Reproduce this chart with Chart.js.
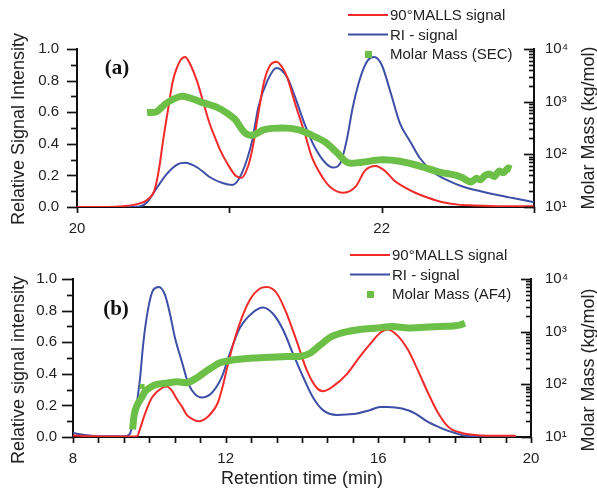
<!DOCTYPE html>
<html>
<head>
<meta charset="utf-8">
<script src="https://cdn.jsdelivr.net/npm/chart.js@4.4.1/dist/chart.umd.min.js"></script>
<style>
  html, body { margin: 0; padding: 0; background: #fff; }
  #wrap { position: relative; width: 597px; height: 493px; }
  .panel { position: absolute; left: 0; width: 597px; }
  #panelA { top: 0; height: 240px; }
  #panelB { top: 240px; height: 253px; }
</style>
</head>
<body>
<div id="wrap">
  <div class="panel" id="panelA"><canvas id="chartA"></canvas></div>
  <div class="panel" id="panelB"><canvas id="chartB"></canvas></div>
</div>
<script>
// ---- panel (a): SEC ----
const aRedT = [20.0, 20.2, 20.3, 20.4, 20.46, 20.51, 20.54, 20.565, 20.6, 20.63, 20.68, 20.71, 20.74, 20.79, 20.83, 20.87, 20.91, 20.94, 20.99, 21.04, 21.08, 21.12, 21.15, 21.19, 21.23, 21.27, 21.31, 21.35, 21.38, 21.43, 21.5, 21.54, 21.61, 21.67, 21.75, 21.83, 21.89, 21.96, 22.02, 22.08, 22.14, 22.22, 22.3, 22.4, 22.5, 22.6, 22.8, 23.0];
const aRedV = [0, 0, 0.005, 0.02, 0.045, 0.11, 0.25, 0.42, 0.63, 0.8, 0.93, 0.95, 0.91, 0.79, 0.66, 0.53, 0.43, 0.36, 0.27, 0.2, 0.185, 0.25, 0.36, 0.59, 0.8, 0.9, 0.92, 0.88, 0.82, 0.66, 0.45, 0.32, 0.19, 0.12, 0.09, 0.13, 0.23, 0.26, 0.23, 0.17, 0.13, 0.09, 0.06, 0.03, 0.015, 0.01, 0.005, 0.005];

const aBlueT = [20.0, 20.3, 20.41, 20.46, 20.53, 20.59, 20.66, 20.71, 20.79, 20.87, 20.96, 21.02, 21.08, 21.15, 21.19, 21.25, 21.31, 21.38, 21.43, 21.5, 21.56, 21.63, 21.68, 21.73, 21.77, 21.81, 21.86, 21.91, 21.95, 22.0, 22.06, 22.12, 22.19, 22.25, 22.34, 22.43, 22.53, 22.65, 22.76, 22.86, 23.0];
const aBlueV = [0, 0, 0.003, 0.03, 0.13, 0.21, 0.27, 0.28, 0.25, 0.19, 0.15, 0.14, 0.21, 0.42, 0.63, 0.8, 0.88, 0.82, 0.7, 0.51, 0.38, 0.28, 0.25, 0.28, 0.42, 0.63, 0.82, 0.93, 0.95, 0.9, 0.72, 0.53, 0.41, 0.31, 0.22, 0.17, 0.13, 0.1, 0.076, 0.057, 0.03];

const aMassT = [20.46, 20.52, 20.59, 20.68, 20.74, 20.83, 20.92, 20.99, 21.04, 21.1, 21.15, 21.23, 21.35, 21.45, 21.54, 21.63, 21.71, 21.78, 21.87, 22.0, 22.12, 22.25, 22.38, 22.49, 22.53, 22.56, 22.59, 22.62, 22.65, 22.68, 22.71, 22.74, 22.77, 22.8, 22.83, 22.85];
const aMassM = [620, 640, 950, 1260, 1180, 950, 780, 590, 450, 260, 230, 295, 316, 295, 232, 170, 105, 69, 71, 79, 74, 60, 46, 40, 36, 32, 30, 35, 33, 40, 42, 38, 48, 45, 55, 52];

// ---- panel (b): AF4 ----
const bRedT = [8.0, 8.5, 9.0, 9.5, 9.68, 9.76, 9.89, 10.07, 10.33, 10.46, 10.6, 10.72, 10.86, 10.98, 11.12, 11.28, 11.54, 11.8, 11.9, 12.11, 12.37, 12.64, 12.9, 13.08, 13.34, 13.6, 13.87, 14.13, 14.39, 14.55, 14.81, 15.18, 15.52, 15.86, 16.05, 16.25, 16.51, 16.78, 17.04, 17.3, 17.57, 17.83, 18.19, 18.71, 19.0, 19.6];
const bRedV = [0.01, 0.005, 0.003, 0.003, 0.005, 0.055, 0.15, 0.25, 0.31, 0.32, 0.29, 0.24, 0.19, 0.14, 0.115, 0.1, 0.13, 0.22, 0.3, 0.51, 0.72, 0.87, 0.94, 0.95, 0.91, 0.78, 0.6, 0.42, 0.31, 0.29, 0.32, 0.4, 0.51, 0.61, 0.66, 0.68, 0.64, 0.55, 0.42, 0.28, 0.15, 0.065, 0.025, 0.01, 0.008, 0.008];

const bBlueT = [8.0, 8.31, 8.7, 9.36, 9.49, 9.57, 9.67, 9.76, 9.84, 9.96, 10.1, 10.25, 10.41, 10.54, 10.67, 10.86, 11.02, 11.2, 11.38, 11.64, 11.9, 12.11, 12.37, 12.72, 12.98, 13.24, 13.5, 13.76, 14.03, 14.29, 14.55, 14.92, 15.34, 15.78, 16.04, 16.25, 16.62, 16.96, 17.3, 17.66, 18.01, 18.35, 19.0, 19.6];
const bBlueV = [0.025, 0.013, 0.004, 0.004, 0.02, 0.09, 0.21, 0.38, 0.59, 0.8, 0.93, 0.95, 0.9, 0.78, 0.63, 0.47, 0.34, 0.27, 0.25, 0.28, 0.38, 0.53, 0.69, 0.79, 0.82, 0.78, 0.68, 0.53, 0.38, 0.25, 0.17, 0.14, 0.145, 0.17, 0.19, 0.19, 0.18, 0.15, 0.095, 0.055, 0.025, 0.006, 0.003, 0.003];

const bMassT = [9.56, 9.58, 9.6, 9.63, 9.7, 9.8, 9.89, 10.0, 10.15, 10.41, 10.75, 11.0, 11.28, 11.51, 11.64, 11.85, 12.03, 12.28, 12.72, 13.16, 13.6, 13.95, 14.21, 14.47, 14.73, 15.07, 15.52, 15.96, 16.36, 16.78, 17.22, 17.66, 18.01, 18.15, 18.27];
const bMassM = [14, 19, 25, 32, 43, 56, 74, 85, 98, 105, 112, 108, 138, 182, 209, 257, 275, 295, 316, 327, 339, 339, 389, 550, 776, 955, 1096, 1175, 1259, 1175, 1216, 1259, 1300, 1350, 1445];
// stray point sitting above the rise
const bMassOutT = [9.81];
const bMassOutM = [91];

// ---- ticks ----
const yLabels = ['0.0', '0.2', '0.4', '0.6', '0.8', '1.0'];
const massDecades = [10, 100, 1000, 10000];
const massLabels = ['10\u00b9', '10\u00b2', '10\u00b3', '10\u2074'];
const aXLabels = [20, 22];
const bXLabels = [8, 12, 16, 20];

const RED = '#f22a2a';
const BLUE = '#3d4fa6';
const GREEN = '#6cbf47';
const FONT = "'Liberation Sans', Arial, sans-serif";

function pts(xs, ys) {
  return xs.map((x, i) => ({ x: x, y: ys[i] }));
}

function massTicks(scale) {
  const list = [];
  massDecades.slice(0, 3).forEach(d => {
    for (let m = 1; m <= 9; m++) list.push({ value: d * m });
  });
  list.push({ value: 10000 });
  scale.ticks = list;
}

// tick marks with two lengths (Chart.js only has one)
function tickPlugin(cfg) {
  return {
    id: 'tickMarks',
    afterDraw(chart) {
      const ctx = chart.ctx, area = chart.chartArea;
      ctx.save();
      ctx.strokeStyle = '#111';
      ctx.lineWidth = 1.7;
      for (const id in cfg) {
        const scale = chart.scales[id], c = cfg[id];
        scale.ticks.forEach(t => {
          const len = t.label ? c.major : c.minor;
          const p = Math.round(scale.getPixelForValue(t.value)) + 0.5;
          ctx.beginPath();
          if (scale.position === 'bottom') {
            ctx.moveTo(p, area.bottom); ctx.lineTo(p, area.bottom + len);
          } else if (scale.position === 'left') {
            ctx.moveTo(area.left, p); ctx.lineTo(area.left - len, p);
          } else {
            ctx.moveTo(area.right, p); ctx.lineTo(area.right - len, p);
          }
          ctx.stroke();
        });
      }
      ctx.restore();
    }
  };
}

// panel letter, rotated axis titles and the legend box
function textPlugin(cfg) {
  return {
    id: 'panelText',
    afterDraw(chart) {
      const ctx = chart.ctx;
      ctx.save();
      ctx.fillStyle = '#111';
      ctx.textAlign = 'center';
      ctx.textBaseline = 'middle';
      ctx.font = "bold 21px 'Liberation Serif', 'Times New Roman', serif";
      ctx.fillText(cfg.letter, cfg.letterX, cfg.letterY);

      ctx.font = '18px ' + FONT;
      ctx.fillStyle = '#222';
      cfg.titles.forEach(tt => {
        ctx.save();
        ctx.translate(tt.x, tt.y);
        ctx.rotate(-Math.PI / 2);
        ctx.fillText(tt.text, 0, 0);
        ctx.restore();
      });

      ctx.font = '15px ' + FONT;
      ctx.textAlign = 'left';
      chart.data.datasets.forEach((ds, i) => {
        if (ds.inLegend === false) return;
        const y = cfg.legendY + i * cfg.legendGap;
        const x0 = cfg.legendX;
        if (ds.showLine === false || ds.legendSquare) {
          ctx.fillStyle = ds.borderColor;
          ctx.fillRect(x0 + 17, y - 3, 7, 7);
        } else {
          ctx.strokeStyle = ds.borderColor;
          ctx.lineWidth = 2;
          ctx.beginPath();
          ctx.moveTo(x0, y); ctx.lineTo(x0 + 40, y);
          ctx.stroke();
        }
        ctx.fillStyle = '#222';
        ctx.fillText(ds.label, x0 + 42, y + 1);
      });
      ctx.restore();
    }
  };
}

function lineSet(label, data, color, axis) {
  return {
    label: label, data: data, yAxisID: axis,
    borderColor: color, backgroundColor: color,
    borderWidth: 2, pointRadius: 0, fill: false,
    cubicInterpolationMode: 'monotone', order: 1
  };
}

function massSet(label, data) {
  return {
    label: label, data: data, yAxisID: 'y2',
    borderColor: GREEN, backgroundColor: GREEN,
    borderWidth: 7, pointRadius: 0, fill: false,
    tension: 0.3, legendSquare: true, order: 0
  };
}

function baseScales(o) {
  const tickFont = { family: FONT, size: 15 };
  return {
    x: {
      type: 'linear', min: o.xMin, max: o.xMax,
      afterBuildTicks: o.xTicks,
      ticks: {
        autoSkip: false, maxRotation: 0, padding: o.xPad, font: tickFont, color: '#222',
        callback: v => o.xLabels.some(l => Math.abs(l - v) < 1e-6) ? String(Math.round(v)) : ''
      },
      grid: { display: false, drawTicks: false },
      border: { display: true, color: '#111', width: 2 },
      title: o.xTitle ? { display: true, text: o.xTitle, font: { family: FONT, size: 18 }, color: '#222', padding: { top: 0, bottom: 3 } } : { display: false },
      afterFit: s => { s.height = o.xH; }
    },
    y: {
      type: 'linear', position: 'left', min: 0, max: 1,
      ticks: {
        stepSize: 0.1, autoSkip: false, padding: o.yPad, font: tickFont, color: '#222',
        callback: v => yLabels.includes(v.toFixed(1)) && Math.round(v * 10) % 2 === 0 ? v.toFixed(1) : ''
      },
      grid: { display: false, drawTicks: false },
      border: { display: true, color: '#111', width: 2 },
      afterFit: s => { s.width = o.leftW; }
    },
    y2: {
      type: 'logarithmic', position: 'right', min: 10, max: 10000,
      afterBuildTicks: massTicks,
      ticks: {
        autoSkip: false, padding: o.y2Pad, font: tickFont, color: '#222',
        callback: v => { const k = massDecades.indexOf(v); return k >= 0 ? massLabels[k] : ''; }
      },
      grid: { display: false, drawTicks: false },
      border: { display: true, color: '#111', width: 2 },
      afterFit: s => { s.width = o.rightW; }
    }
  };
}

const commonOpts = {
  responsive: true, maintainAspectRatio: false, animation: false,
  plugins: { legend: { display: false }, tooltip: { enabled: false } },
  events: []
};

// panel (a)
new Chart(document.getElementById('chartA'), {
  type: 'line',
  data: {
    datasets: [
      lineSet('90\u00b0MALLS signal', pts(aRedT, aRedV), RED, 'y'),
      lineSet('RI - signal', pts(aBlueT, aBlueV), BLUE, 'y'),
      massSet('Molar Mass (SEC)', pts(aMassT, aMassM))
    ]
  },
  options: Object.assign({}, commonOpts, {
    layout: { padding: { top: 49, left: 0, right: 0, bottom: 0 } },
    scales: baseScales({
      xMin: 20, xMax: 23, xLabels: aXLabels, xPad: 13, xH: 33,
      xTicks: s => { s.ticks = [20, 21, 22, 23].map(v => ({ value: v })); },
      yPad: 18, y2Pad: 11, leftW: 77, rightW: 63
    })
  }),
  plugins: [
    tickPlugin({ x: { major: 6, minor: 6 }, y: { major: 10, minor: 6 }, y2: { major: 10, minor: 5 } }),
    textPlugin({
      letter: '(a)', letterX: 117, letterY: 69,
      titles: [
        { text: 'Relative Signal Intensity', x: 19, y: 129 },
        { text: 'Molar Mass (kg/mol)', x: 589, y: 128 }
      ],
      legendX: 348, legendY: 15, legendGap: 19.5
    })
  ]
});

// panel (b)
new Chart(document.getElementById('chartB'), {
  type: 'line',
  data: {
    datasets: [
      lineSet('90\u00b0MALLS signal', pts(bRedT, bRedV), RED, 'y'),
      lineSet('RI - signal', pts(bBlueT, bBlueV), BLUE, 'y'),
      massSet('Molar Mass (AF4)', pts(bMassT, bMassM)),
      Object.assign(massSet('', pts(bMassOutT, bMassOutM)), {
        showLine: false, pointRadius: 3.5, pointStyle: 'rect', borderWidth: 0, inLegend: false
      })
    ]
  },
  options: Object.assign({}, commonOpts, {
    layout: { padding: { top: 39, left: 0, right: 0, bottom: 0 } },
    scales: baseScales({
      xMin: 8, xMax: 20, xLabels: bXLabels, xPad: 13, xH: 56,
      xTicks: s => { s.ticks = Array.from({ length: 19 }, (_, i) => ({ value: 8 + i * 2 / 3 })); },
      xTitle: 'Retention time (min)',
      yPad: 16, y2Pad: 14, leftW: 73, rightW: 66
    })
  }),
  plugins: [
    tickPlugin({ x: { major: 6, minor: 6 }, y: { major: 11, minor: 6 }, y2: { major: 10, minor: 5 } }),
    textPlugin({
      letter: '(b)', letterX: 116, letterY: 70,
      titles: [
        { text: 'Relative signal intensity', x: 19, y: 130 },
        { text: 'Molar Mass (kg/mol)', x: 589, y: 130 }
      ],
      legendX: 350, legendY: 15, legendGap: 19.5
    })
  ]
});
</script>
</body>
</html>
